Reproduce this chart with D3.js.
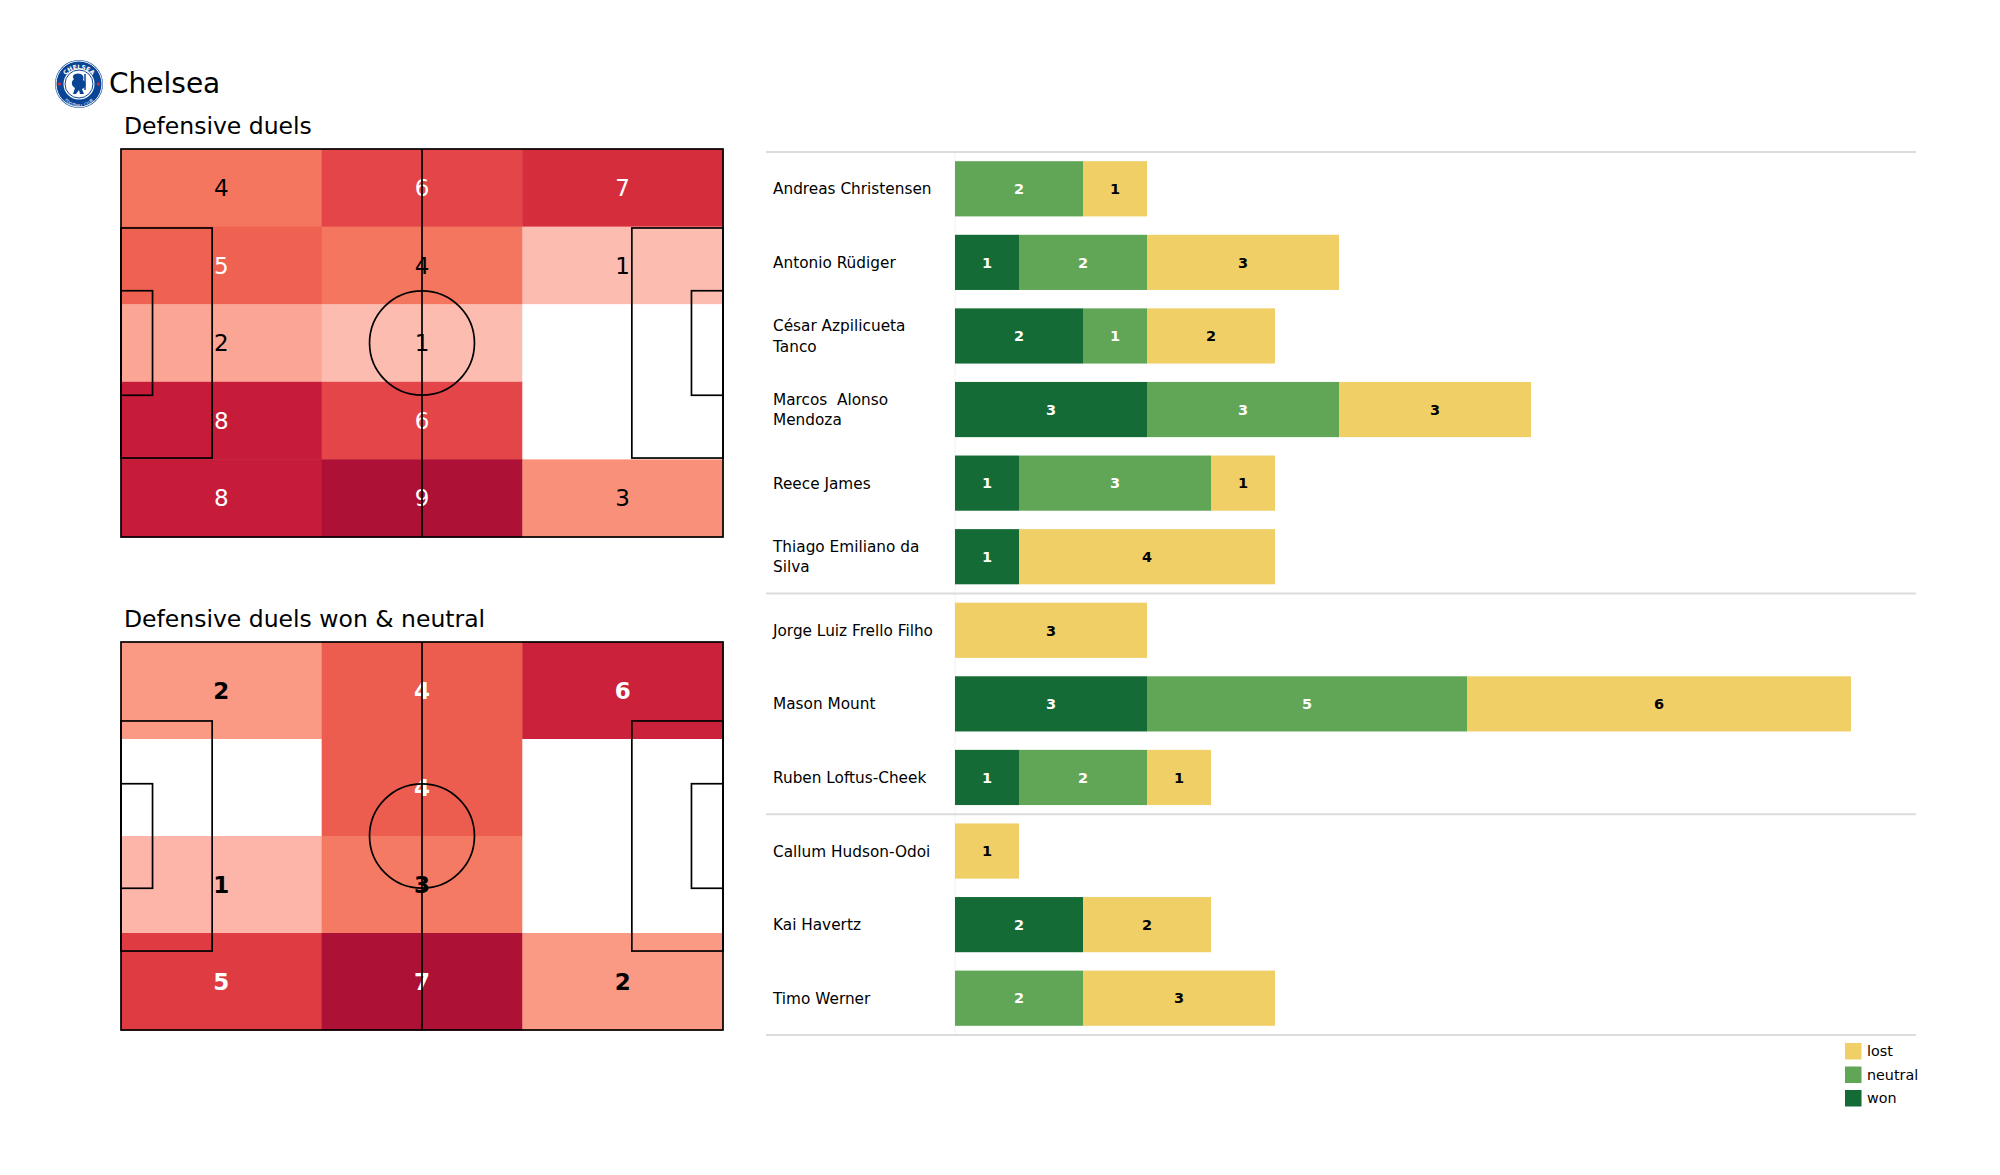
<!DOCTYPE html>
<html>
<head>
<meta charset="utf-8">
<script src="https://cdn.jsdelivr.net/npm/d3@7"></script>
<style>
  html, body { margin: 0; padding: 0; background: #ffffff; }
  svg { display: block; font-family: "DejaVu Sans", sans-serif; }
</style>
</head>
<body>
<svg id="chart" width="2000" height="1175"></svg>
<script>
// ---------------- DATA ----------------
const teamName = "Chelsea";
const heatTitle1 = "Defensive duels";
const heatTitle2 = "Defensive duels won & neutral";

// heatmap 1: 5 rows (top to bottom) x 3 columns (left to right)
const heat1Values = [
  [4, 6, 7],
  [5, 4, 1],
  [2, 1, 0],
  [8, 6, 0],
  [8, 9, 3]
];
// heatmap 2: 4 rows x 3 columns
const heat2Values = [
  [2, 4, 6],
  [0, 4, 0],
  [1, 3, 0],
  [5, 7, 2]
];

const players = [
  "Andreas Christensen",
  "Antonio Rüdiger",
  "César Azpilicueta Tanco",
  "Marcos  Alonso Mendoza",
  "Reece James",
  "Thiago Emiliano da Silva",
  "Jorge Luiz Frello Filho",
  "Mason Mount",
  "Ruben Loftus-Cheek",
  "Callum Hudson-Odoi",
  "Kai Havertz",
  "Timo Werner"
];
// label line breaks as drawn
const playerLabelLines = [
  ["Andreas Christensen"],
  ["Antonio Rüdiger"],
  ["César Azpilicueta", "Tanco"],
  ["Marcos  Alonso", "Mendoza"],
  ["Reece James"],
  ["Thiago Emiliano da", "Silva"],
  ["Jorge Luiz Frello Filho"],
  ["Mason Mount"],
  ["Ruben Loftus-Cheek"],
  ["Callum Hudson-Odoi"],
  ["Kai Havertz"],
  ["Timo Werner"]
];
const wonValues     = [0, 1, 2, 3, 1, 1, 0, 3, 1, 0, 2, 0];
const neutralValues = [2, 2, 1, 3, 3, 0, 0, 5, 2, 0, 0, 2];
const lostValues    = [1, 3, 2, 3, 1, 4, 3, 6, 1, 1, 2, 3];
// position groups: number of players in each (defenders, midfielders, forwards)
const groupSizes = [6, 3, 3];
const seriesKeys = ["won", "neutral", "lost"];
const legendLabels = ["lost", "neutral", "won"];

// ---------------- STYLE ----------------
const seriesColors = { won: "#156b36", neutral: "#60a656", lost: "#f0cf66" };
const seriesTextColors = { won: "#ffffff", neutral: "#ffffff", lost: "#000000" };
const heatStops = [0, 0.111, 0.222, 0.333, 0.444, 0.556, 0.667, 0.778, 0.889, 1];
const heatColors = ["#ffffff", "#fdbcb0", "#fba594", "#f9917a", "#f4765f", "#ef6150", "#e44548", "#d62d3c", "#c61c3a", "#ad1236"];
const heatColor = d3.scaleLinear().domain(heatStops).range(heatColors).interpolate(d3.interpolateRgb);

const svg = d3.select("#chart");

// ---------------- HEADER ----------------
const logo = svg.append("g").attr("transform", "translate(79,84)");
logo.append("circle").attr("r", 24).attr("fill", "#0a4595");
logo.append("circle").attr("r", 23).attr("fill", "none").attr("stroke", "#ffffff").attr("stroke-width", 1);
logo.append("circle").attr("r", 15.5).attr("fill", "#ffffff");
logo.append("circle").attr("r", 14).attr("fill", "none").attr("stroke", "#0a4595").attr("stroke-width", 1);
[-1, 1].forEach(s => {
  logo.append("circle").attr("cx", s * 19.5).attr("cy", 0).attr("r", 1.6).attr("fill", "#d62d3c");
});
logo.append("defs").append("path").attr("id", "logoArcTop").attr("d", "M -17,2 A 17,17 0 0,1 17,2");
logo.append("text").attr("font-size", 6).attr("font-weight", "bold").attr("fill", "#ffffff")
  .append("textPath").attr("href", "#logoArcTop").attr("startOffset", "50%").attr("text-anchor", "middle")
  .text("CHELSEA");
logo.append("defs").append("path").attr("id", "logoArcBot").attr("d", "M -19,4 A 19,19 0 0,0 19,4");
logo.append("text").attr("font-size", 4).attr("fill", "#ffffff")
  .append("textPath").attr("href", "#logoArcBot").attr("startOffset", "50%").attr("text-anchor", "middle")
  .text("FOOTBALL CLUB");
// simplified lion
logo.append("path")
  .attr("d", "M -4,-10 C 2,-12 6,-8 4,-4 C 8,-2 7,4 3,5 L 5,10 L 1,10 L 0,6 L -3,10 L -6,10 L -4,4 C -8,2 -8,-3 -5,-5 C -7,-7 -6,-9 -4,-10 Z")
  .attr("fill", "#0a4595");
logo.append("line").attr("x1", 6).attr("y1", -10).attr("x2", 6).attr("y2", 6).attr("stroke", "#0a4595").attr("stroke-width", 1.5);

svg.append("text").attr("x", 109).attr("y", 93).attr("font-size", 28).attr("fill", "#000").text(teamName);

// ---------------- PITCH HEATMAPS ----------------
function drawPitch(top, values, title, bold) {
  const left = 121, width = 602, height = 388;
  const g = svg.append("g");
  const px = d3.scaleLinear().domain([0, 105]).range([left, left + width]);
  const py = d3.scaleLinear().domain([0, 68]).range([top, top + height]);
  const nRows = values.length, nCols = values[0].length;
  const colBand = d3.scaleBand().domain(d3.range(nCols)).range([left, left + width]);
  const rowBand = d3.scaleBand().domain(d3.range(nRows)).range([top, top + height]);
  const maxV = d3.max(values.flat());
  const frac = v => v / maxV;

  svg.append("text").attr("x", 124).attr("y", top - 15).attr("font-size", 23.5).attr("fill", "#000").text(title);

  const cells = [];
  values.forEach((row, r) => row.forEach((v, c) => cells.push({ r, c, v })));

  g.selectAll("rect.cell").data(cells).enter().append("rect")
    .attr("class", "cell")
    .attr("x", d => colBand(d.c))
    .attr("y", d => rowBand(d.r))
    .attr("width", colBand.bandwidth() + 0.5)
    .attr("height", rowBand.bandwidth() + 0.5)
    .attr("fill", d => d.v === 0 ? "#ffffff" : heatColor(frac(d.v)));

  g.selectAll("text.val").data(cells.filter(d => d.v > 0)).enter().append("text")
    .attr("class", "val")
    .attr("x", d => colBand(d.c) + colBand.bandwidth() / 2)
    .attr("y", d => rowBand(d.r) + rowBand.bandwidth() / 2)
    .attr("dy", "0.36em")
    .attr("text-anchor", "middle")
    .attr("font-size", 23)
    .attr("font-weight", bold ? "bold" : "normal")
    .attr("fill", d => frac(d.v) > 0.5 ? "#ffffff" : "#000000")
    .text(d => d.v);

  const sw = 1.7;
  const addRect = (x0, y0, x1, y1) => {
    g.append("rect").attr("x", px(x0)).attr("y", py(y0))
      .attr("width", px(x1) - px(x0)).attr("height", py(y1) - py(y0))
      .attr("fill", "none").attr("stroke", "#000").attr("stroke-width", sw);
  };
  addRect(0, 0, 105, 68);
  addRect(0, 34 - 20.16, 15.9, 34 + 20.16);
  addRect(0, 34 - 9.16, 5.5, 34 + 9.16);
  addRect(105 - 15.9, 34 - 20.16, 105, 34 + 20.16);
  addRect(105 - 5.5, 34 - 9.16, 105, 34 + 9.16);
  g.append("line").attr("x1", px(52.5)).attr("x2", px(52.5)).attr("y1", py(0)).attr("y2", py(68))
    .attr("stroke", "#000").attr("stroke-width", sw);
  g.append("ellipse").attr("cx", px(52.5)).attr("cy", py(34))
    .attr("rx", px(9.15) - px(0)).attr("ry", py(9.15) - py(0))
    .attr("fill", "none").attr("stroke", "#000").attr("stroke-width", sw);
}

drawPitch(149, heat1Values, heatTitle1, false);
drawPitch(642, heat2Values, heatTitle2, true);

// ---------------- STACKED BARS ----------------
const barData = players.map((p, i) => ({
  player: p, won: wonValues[i], neutral: neutralValues[i], lost: lostValues[i]
}));
const stack = d3.stack().keys(seriesKeys)(barData);

const yBand = d3.scaleBand().domain(players).range([152, 1035]).paddingInner(0.25).paddingOuter(0.125);
const xLin = d3.scaleLinear().domain([0, 14]).range([955, 1851]);

const barG = svg.append("g");

// faint axis line at bar start
barG.append("line").attr("x1", xLin(0)).attr("x2", xLin(0)).attr("y1", 152).attr("y2", 1035)
  .attr("stroke", "#f2f2f2").attr("stroke-width", 1);

// group separators
const sepIdx = [0];
groupSizes.reduce((acc, n) => { sepIdx.push(acc + n); return acc + n; }, 0);
const step = yBand.step();
barG.selectAll("line.sep").data(sepIdx).enter().append("line")
  .attr("class", "sep")
  .attr("x1", 766).attr("x2", 1916)
  .attr("y1", d => 152 + d * step).attr("y2", d => 152 + d * step)
  .attr("stroke", "#dcdcdc").attr("stroke-width", 2);

stack.forEach(layer => {
  const key = layer.key;
  const segs = layer.map((d, i) => ({ key, x0: d[0], x1: d[1], player: players[i] })).filter(d => d.x1 > d.x0);
  barG.selectAll("rect.seg-" + key).data(segs).enter().append("rect")
    .attr("x", d => xLin(d.x0))
    .attr("y", d => yBand(d.player))
    .attr("width", d => xLin(d.x1) - xLin(d.x0))
    .attr("height", yBand.bandwidth())
    .attr("fill", seriesColors[key]);
  barG.selectAll("text.seg-" + key).data(segs).enter().append("text")
    .attr("x", d => (xLin(d.x0) + xLin(d.x1)) / 2)
    .attr("y", d => yBand(d.player) + yBand.bandwidth() / 2)
    .attr("dy", "0.36em")
    .attr("text-anchor", "middle")
    .attr("font-size", 14.5)
    .attr("font-weight", "bold")
    .attr("fill", seriesTextColors[key])
    .text(d => d.x1 - d.x0);
});

// player labels
players.forEach((p, i) => {
  const lines = playerLabelLines[i];
  const cy = yBand(p) + yBand.bandwidth() / 2;
  const lh = 20.4;
  const t = barG.append("text").attr("font-size", 15.3).attr("fill", "#000")
    .attr("xml:space", "preserve").style("white-space", "pre");
  lines.forEach((ln, k) => {
    t.append("tspan").attr("x", 773)
      .attr("y", cy + (k - (lines.length - 1) / 2) * lh)
      .attr("dy", "0.36em")
      .text(ln);
  });
});

// legend
const legG = svg.append("g");
legendLabels.forEach((lab, i) => {
  const y = 1043 + i * 23.5;
  legG.append("rect").attr("x", 1845).attr("y", y).attr("width", 16.5).attr("height", 16.5)
    .attr("fill", seriesColors[lab]);
  legG.append("text").attr("x", 1867).attr("y", y + 8.25).attr("dy", "0.36em")
    .attr("font-size", 14.3).attr("fill", "#000").text(lab);
});
</script>
</body>
</html>
